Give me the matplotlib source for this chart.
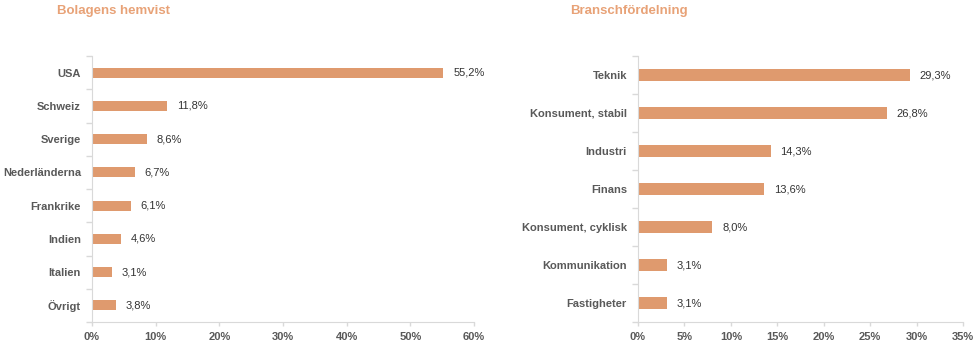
import numpy as np
import matplotlib
matplotlib.use("Agg")
import matplotlib.pyplot as plt
from matplotlib.ticker import MultipleLocator, FuncFormatter

plt.rcParams['font.family'] = ['Liberation Sans', 'DejaVu Sans']

##data
land_names = ['USA', 'Schweiz', 'Sverige', 'Nederländerna', 'Frankrike', 'Indien', 'Italien', 'Övrigt']
land_values = [55.2, 11.8, 8.6, 6.7, 6.1, 4.6, 3.1, 3.8]
bransch_names = ['Teknik', 'Konsument, stabil', 'Industri', 'Finans', 'Konsument, cyklisk',
                 'Kommunikation', 'Fastigheter']
bransch_values = [29.3, 26.8, 14.3, 13.6, 8.0, 3.1, 3.1]

bar_color = '#DF9A6E'
title_color = '#E8A277'
text_color = '#595959'
spine_color = '#D9D9D9'


def draw_panel(ax, names, values, xmax, xstep, title, title_x, bar_h):
    n = len(names)
    pos = np.arange(n)[::-1]
    ax.barh(pos, values, height=bar_h, color=bar_color)
    for p, v in zip(pos, values):
        ax.annotate(('%.1f%%' % v).replace('.', ','), (v, p), xytext=(7, 0),
                    textcoords='offset points', va='center', ha='left',
                    fontsize=8, color='#333333')
    ax.set_xlim(0, xmax)
    ax.set_ylim(-0.5, n - 0.5)
    ax.xaxis.set_major_locator(MultipleLocator(xstep))
    ax.xaxis.set_major_formatter(FuncFormatter(lambda x, _: '%d%%' % round(x)))
    ax.set_yticks(np.arange(n + 1) - 0.5)
    ax.set_yticklabels([])
    ax.set_yticks(pos, minor=True)
    ax.set_yticklabels(names, minor=True)
    ax.tick_params(axis='y', which='major', length=4, color=spine_color, width=1)
    ax.tick_params(axis='y', which='minor', length=0, pad=8)
    ax.tick_params(axis='x', length=3, color=spine_color, width=1, pad=4)
    for lab in ax.get_yticklabels(minor=True) + ax.get_xticklabels():
        lab.set_fontweight('bold')
        lab.set_fontsize(8)
        lab.set_color(text_color)
    for s in ['top', 'right']:
        ax.spines[s].set_visible(False)
    for s in ['left', 'bottom']:
        ax.spines[s].set_color(spine_color)
    ax.figure.text(title_x, 1 - 11 / 351, title, fontsize=9.5, fontweight='bold',
                   color=title_color, ha='left', va='center')


fig = plt.figure(figsize=(9.79, 3.51), dpi=100)
ax1 = fig.add_axes([92 / 979, 1 - 322 / 351, (474 - 92) / 979, (322 - 56) / 351])
ax2 = fig.add_axes([638 / 979, 1 - 322 / 351, (963 - 638) / 979, (322 - 56) / 351])

draw_panel(ax1, land_names, land_values, 60, 10, 'Bolagens hemvist', 57 / 979, 0.3)
draw_panel(ax2, bransch_names, bransch_values, 35, 5, 'Branschfördelning', 570 / 979, 0.32)

fig.savefig('out.png', dpi=100)
